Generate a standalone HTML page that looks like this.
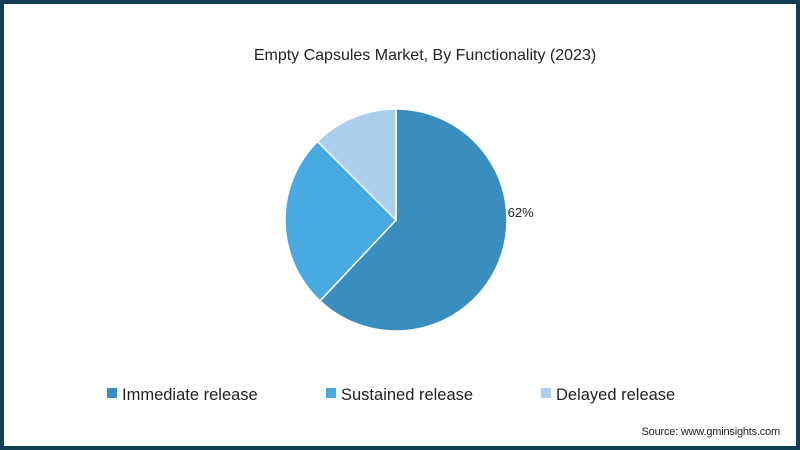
<!DOCTYPE html>
<html><head><meta charset="utf-8"><style>
body{margin:0;width:800px;height:450px;overflow:hidden;background:#fff;font-family:"Liberation Sans",sans-serif}
#frame{position:absolute;left:0;top:0;width:792px;height:442px;border:4px solid #123f55;background:#fff}
.t{position:absolute;color:#222}
</style></head><body>
<div id="frame"></div>
<div class="t" style="left:0;width:850px;top:47px;text-align:center;font-size:16px">Empty Capsules Market, By Functionality (2023)</div>
<svg id="pie" width="800" height="450" style="position:absolute;left:0;top:0"></svg>
<div class="t" style="right:20px;top:426px;font-size:11px;letter-spacing:-0.2px">Source: www.gminsights.com</div>
<script>
const categories=["Immediate release","Sustained release","Delayed release"];
const values=[62,25.5,12.5];
const labels=["62%","",""];
const colors=["#3a8dbf","#48aae0","#abcfec"];
const svg=document.getElementById('pie');const NS="http://www.w3.org/2000/svg";
const cx=396,cy=220,r=111;const total=values.reduce((a,b)=>a+b,0);
let a0=0;
values.forEach((v,i)=>{
 const a1=a0+v/total*2*Math.PI;
 const p=(a)=>[cx+r*Math.sin(a),cy-r*Math.cos(a)];
 const [x0,y0]=p(a0),[x1,y1]=p(a1);
 const path=document.createElementNS(NS,'path');
 path.setAttribute('d',`M${cx},${cy}L${x0},${y0}A${r},${r} 0 ${a1-a0>Math.PI?1:0} 1 ${x1},${y1}Z`);
 path.setAttribute('fill',colors[i]);path.setAttribute('stroke','#fff');path.setAttribute('stroke-width','1.5');
 
 
 svg.appendChild(path);
 if(labels[i]){const m=a0+(a1-a0)*0.385;const t=document.createElementNS(NS,'text');
  t.setAttribute('x',cx+(r+14)*Math.sin(m));t.setAttribute('y',cy-(r+14)*Math.cos(m)+6);
  t.setAttribute('font-size','13');t.setAttribute('fill','#222');t.setAttribute('text-anchor','middle');
  t.setAttribute('font-family','Liberation Sans, sans-serif');t.textContent=labels[i];
  
  
  svg.appendChild(t);}
 a0=a1;
});
const lx=[107,326,541];
categories.forEach((c,i)=>{
 const g=document.createElementNS(NS,'g');
 
 
 const s=document.createElementNS(NS,'rect');s.setAttribute('x',lx[i]);s.setAttribute('y',388);s.setAttribute('width',10);s.setAttribute('height',10);s.setAttribute('fill',colors[i]);
 const t=document.createElementNS(NS,'text');t.setAttribute('x',lx[i]+15);t.setAttribute('y',400);t.setAttribute('font-size','16.5');t.setAttribute('fill','#222');t.setAttribute('font-family','Liberation Sans, sans-serif');t.textContent=c;
 g.appendChild(s);g.appendChild(t);svg.appendChild(g);
});
</script>
</body></html>
